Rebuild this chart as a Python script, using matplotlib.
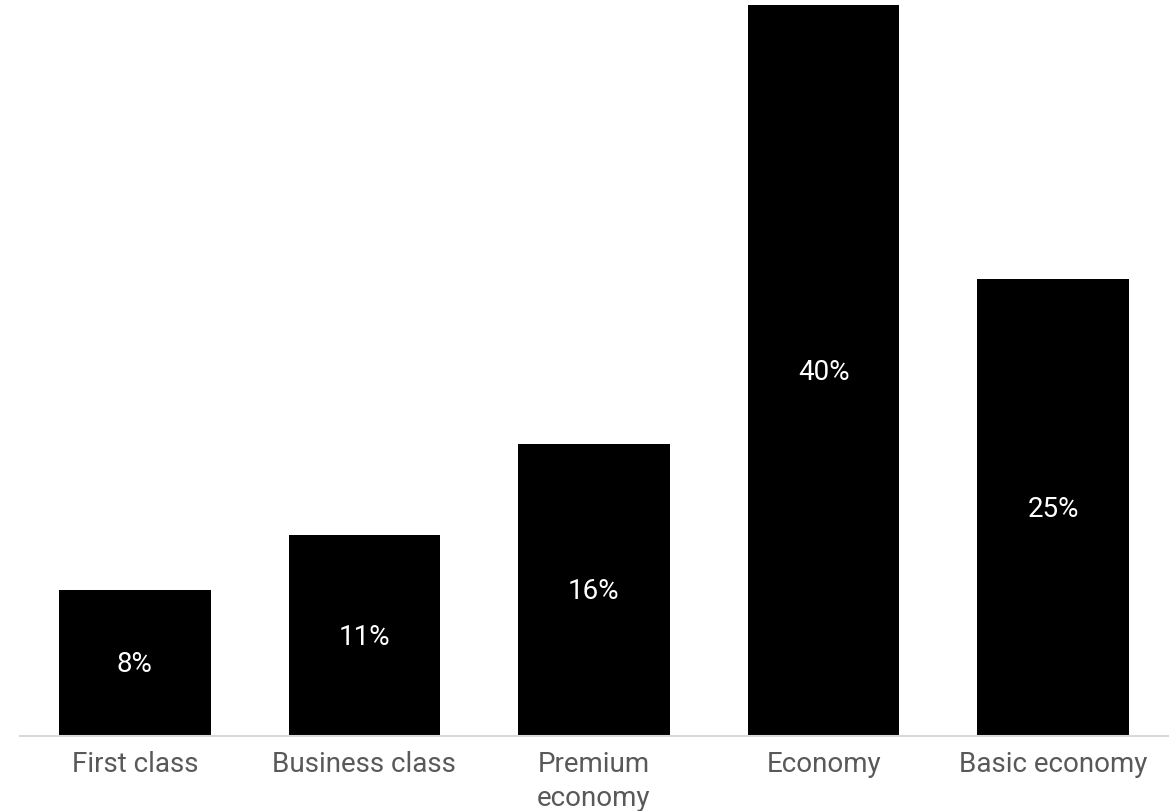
import matplotlib.pyplot as plt

plt.rcParams['font.family'] = ['Roboto', 'DejaVu Sans']

# data
categories = ['First class', 'Business class', 'Premium\neconomy', 'Economy', 'Basic economy']
shares = [8, 11, 16, 40, 25]
labels = ['8%', '11%', '16%', '40%', '25%']

fig = plt.figure(figsize=(11.76, 8.12), dpi=100)
ax = fig.add_axes([20 / 1176, 75 / 812, 1148 / 1176, 737 / 812])

x = range(len(categories))
bars = ax.bar(x, shares, width=0.66, color='black')

for b, lab in zip(bars, labels):
    ax.text(b.get_x() + b.get_width() / 2, b.get_height() / 2 - 0.05, lab,
            ha='center', va='center', color='white', fontsize=20)

ax.set_xlim(-0.5, 4.5)
ax.set_ylim(0, 40.33)
ax.set_xticks(list(x))
ax.set_xticklabels(categories, fontsize=20, color='#595959', linespacing=1.32)
ax.tick_params(axis='x', length=0, pad=10)
ax.set_yticks([])
for s in ['top', 'right', 'left']:
    ax.spines[s].set_visible(False)
ax.spines['bottom'].set_color('#d9d9d9')
ax.spines['bottom'].set_linewidth(1.5)

plt.savefig('out.png', dpi=100)
